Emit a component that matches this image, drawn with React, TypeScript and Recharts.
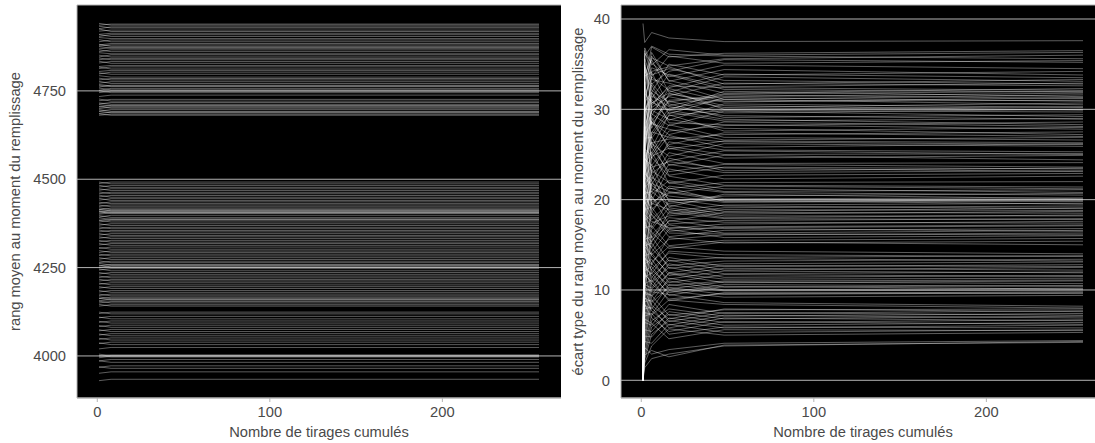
import React from 'react';
import { LineChart, Line, XAxis, YAxis, CartesianGrid } from 'recharts';

// ---------- data ----------
const xTicks = [0, 100, 200];
const leftYTicks = [4000, 4250, 4500, 4750];
const rightYTicks = [0, 10, 20, 30, 40];

// left panel: sample positions (Nombre de tirages cumulés)
const leftX = [1, 8, 256];
// each run: [value at first draw, settled value]
const leftRuns: [number, number][] = [
  [4936, 4939], [4941, 4936], [4926, 4931], [4933, 4928], [4919, 4922], [4925, 4918], [4910, 4913], [4904, 4909],
  [4909, 4904], [4901, 4898], [4889, 4894], [4895, 4889], [4880, 4884], [4877, 4880], [4882, 4876], [4869, 4872],
  [4875, 4871], [4861, 4866], [4866, 4861], [4858, 4855], [4846, 4852], [4851, 4846], [4838, 4842], [4843, 4838],
  [4829, 4833], [4834, 4828], [4819, 4822], [4813, 4818], [4817, 4812], [4805, 4808], [4798, 4803], [4801, 4797],
  [4793, 4789], [4781, 4785], [4786, 4781], [4772, 4776], [4777, 4771], [4761, 4766], [4768, 4764], [4765, 4762],
  [4752, 4757], [4758, 4753], [4745, 4749], [4750, 4745], [4734, 4738], [4722, 4726], [4727, 4721], [4713, 4717],
  [4716, 4712], [4704, 4709], [4711, 4707], [4700, 4704], [4706, 4701], [4693, 4697], [4697, 4692], [4686, 4690],
  [4692, 4688], [4681, 4684], [4685, 4681],
  [4488, 4492], [4492, 4487], [4478, 4482], [4483, 4477], [4469, 4473], [4473, 4468], [4459, 4463], [4464, 4459],
  [4450, 4454], [4455, 4449], [4441, 4445], [4446, 4440], [4431, 4436], [4435, 4431], [4423, 4427], [4427, 4422],
  [4414, 4418], [4419, 4414], [4408, 4412], [4415, 4410], [4404, 4408], [4411, 4406], [4401, 4405], [4408, 4403],
  [4393, 4398], [4397, 4392], [4384, 4388], [4391, 4386], [4379, 4384], [4384, 4379], [4370, 4374], [4374, 4369],
  [4360, 4364], [4365, 4360], [4351, 4355], [4356, 4351], [4342, 4346], [4346, 4341], [4333, 4337], [4337, 4332],
  [4323, 4327], [4327, 4322], [4314, 4318], [4318, 4313], [4304, 4308], [4307, 4302], [4293, 4297], [4298, 4293],
  [4284, 4288], [4288, 4283], [4274, 4278], [4278, 4273], [4264, 4268], [4269, 4264], [4255, 4259], [4262, 4257],
  [4251, 4255], [4257, 4252], [4243, 4247], [4246, 4241], [4232, 4236], [4236, 4231], [4222, 4226], [4226, 4221],
  [4212, 4216], [4217, 4212], [4203, 4207], [4206, 4201], [4192, 4196], [4196, 4191], [4181, 4185], [4185, 4180],
  [4171, 4175], [4175, 4170], [4162, 4166], [4167, 4162], [4156, 4160], [4163, 4158], [4150, 4154], [4155, 4150],
  [4141, 4145], [4146, 4141], [4120, 4124], [4124, 4119], [4108, 4112], [4110, 4105], [4095, 4099], [4098, 4093],
  [4083, 4087], [4086, 4081], [4071, 4075], [4074, 4069], [4059, 4063], [4062, 4057], [4047, 4051], [4050, 4045],
  [4035, 4039], [4037, 4032], [4020, 4024], [3999, 4003], [4005, 4001], [3995, 3999], [4001, 3997], [3986, 3990],
  [3986, 3982], [3968, 3972], [3969, 3965], [3951, 3955], [3930, 3934],
];

// right panel: sample positions
const rightX = [1, 2, 6, 16, 48, 256];
// each run: value at each of rightX
const rightRuns: number[][] = [
  [39.5, 37.4, 38.5, 37.9, 37.5, 37.6],
  [0, 33.2, 36.9, 35.8, 36.2, 36.5], [0, 36.8, 34.9, 36.6, 36.0, 36.3], [0, 30.1, 35.7, 34.8, 35.6, 36.0],
  [0, 35.9, 37.0, 36.1, 35.9, 35.6], [0, 28.4, 33.6, 35.9, 35.1, 35.4], [0, 34.7, 32.8, 34.2, 35.5, 35.2],
  [0, 36.2, 35.1, 33.6, 34.9, 34.5], [0, 27.5, 31.9, 35.0, 33.8, 34.2], [0, 31.8, 36.3, 33.1, 34.4, 33.8],
  [0, 35.1, 30.6, 32.4, 33.9, 33.5], [0, 24.9, 34.2, 34.7, 32.8, 33.3], [0, 33.9, 35.5, 31.9, 33.6, 33.1],
  [0, 29.7, 31.2, 33.9, 32.5, 32.9], [0, 36.5, 33.8, 34.5, 33.2, 32.8], [0, 26.3, 29.8, 31.5, 32.9, 32.6],
  [0, 32.6, 35.9, 33.2, 31.8, 32.3], [0, 22.8, 30.4, 32.6, 32.4, 32.1], [0, 34.4, 32.1, 30.8, 31.7, 32.0],
  [0, 30.9, 34.6, 33.8, 32.2, 31.9], [0, 27.1, 28.7, 31.0, 31.4, 31.8], [0, 35.6, 33.3, 32.9, 31.1, 31.6],
  [0, 25.4, 31.8, 29.9, 32.0, 31.4], [0, 31.2, 27.9, 31.7, 30.8, 31.3], [0, 33.7, 34.1, 30.4, 31.6, 31.2],
  [0, 20.6, 29.3, 32.3, 30.9, 31.0], [0, 29.2, 32.7, 29.5, 31.3, 30.9], [0, 34.9, 30.2, 31.4, 30.2, 30.7],
  [0, 24.1, 27.4, 30.1, 31.1, 30.5], [0, 31.5, 33.6, 32.1, 30.0, 30.3], [0, 27.8, 31.1, 28.8, 30.6, 30.2],
  [0, 33.0, 28.3, 30.9, 29.6, 30.0], [0, 21.9, 30.7, 31.8, 30.4, 29.9], [0, 30.4, 26.8, 29.3, 29.9, 29.7],
  [0, 26.7, 32.9, 30.6, 29.1, 29.4], [0, 32.3, 29.5, 28.2, 29.8, 29.2], [0, 18.8, 27.1, 29.7, 28.7, 29.0],
  [0, 29.9, 31.5, 30.3, 29.3, 28.9], [0, 25.6, 24.9, 27.6, 28.2, 28.6], [0, 31.7, 30.8, 29.9, 28.9, 28.3],
  [0, 23.3, 28.6, 27.2, 28.6, 28.1], [0, 28.9, 25.7, 29.4, 27.6, 28.0], [0, 30.8, 31.9, 28.5, 28.3, 27.8],
  [0, 20.2, 26.3, 26.7, 27.2, 27.5], [0, 27.3, 29.9, 28.9, 27.9, 27.2], [0, 24.5, 23.8, 26.1, 27.4, 27.0],
  [0, 30.2, 28.4, 27.8, 26.6, 26.9], [0, 17.9, 25.2, 28.3, 26.9, 26.6], [0, 26.4, 29.1, 25.6, 26.5, 26.3],
  [0, 28.1, 24.6, 27.1, 25.8, 26.2], [0, 22.7, 27.5, 26.9, 26.4, 26.1], [0, 29.5, 26.2, 24.8, 26.2, 25.9],
  [0, 19.6, 23.1, 26.4, 25.5, 25.3], [0, 25.9, 28.7, 25.9, 25.0, 25.1], [0, 27.6, 22.9, 24.3, 25.4, 25.0],
  [0, 16.4, 24.8, 25.7, 24.6, 24.9], [0, 26.8, 26.9, 23.8, 24.9, 24.4], [0, 21.3, 22.2, 25.2, 24.0, 24.1],
  [0, 28.2, 25.8, 23.1, 23.9, 23.6], [0, 18.5, 21.7, 24.6, 23.2, 23.5], [0, 24.7, 26.4, 22.7, 23.6, 23.4],
  [0, 26.1, 20.8, 23.9, 23.0, 23.2], [0, 15.2, 23.6, 24.2, 23.5, 23.1], [0, 23.9, 25.3, 21.8, 22.7, 22.9],
  [0, 25.3, 19.9, 23.4, 22.3, 22.6], [0, 14.6, 22.5, 21.2, 21.9, 22.0], [0, 23.1, 24.7, 22.6, 21.6, 21.4],
  [0, 20.4, 18.9, 20.7, 21.5, 21.2], [0, 24.6, 23.2, 21.9, 20.9, 21.1], [0, 12.9, 20.6, 22.1, 21.2, 20.8],
  [0, 22.2, 23.9, 19.8, 20.4, 20.7], [0, 24.0, 19.4, 21.5, 20.8, 20.5], [0, 17.3, 21.8, 20.9, 20.1, 20.2],
  [0, 21.7, 22.8, 19.2, 20.6, 20.1], [0, 13.8, 18.6, 21.3, 19.8, 20.0], [0, 23.4, 21.2, 20.4, 19.7, 19.9],
  [0, 19.2, 17.8, 19.6, 20.0, 19.8], [0, 22.9, 22.1, 18.7, 19.4, 19.6], [0, 11.6, 19.7, 20.8, 19.9, 19.5],
  [0, 21.0, 20.3, 18.4, 19.1, 19.3], [0, 18.1, 16.9, 19.9, 18.7, 19.1], [0, 22.4, 21.6, 20.1, 19.3, 19.0],
  [0, 12.3, 17.4, 18.2, 18.9, 18.8], [0, 20.7, 20.9, 19.4, 18.4, 18.7], [0, 17.6, 15.8, 17.6, 18.6, 18.5],
  [0, 21.8, 19.6, 18.9, 18.0, 18.3], [0, 10.8, 16.7, 19.1, 18.2, 18.2], [0, 19.5, 20.4, 17.3, 17.7, 17.9],
  [0, 16.2, 15.3, 18.6, 17.9, 17.8], [0, 20.9, 18.7, 16.8, 17.3, 17.6], [0, 11.1, 16.1, 18.0, 17.5, 17.4],
  [0, 18.9, 19.2, 16.5, 17.0, 17.2], [0, 15.4, 14.7, 17.7, 16.9, 17.1], [0, 19.8, 18.3, 15.9, 16.6, 16.8],
  [0, 9.7, 15.5, 17.2, 16.3, 16.6], [0, 18.3, 17.6, 16.9, 16.8, 16.5], [0, 14.8, 13.9, 15.6, 16.1, 16.3],
  [0, 17.7, 18.4, 16.3, 16.2, 16.1], [0, 10.2, 14.2, 16.7, 15.8, 16.0], [0, 16.9, 17.1, 14.9, 15.5, 15.7],
  [0, 13.5, 12.8, 15.8, 15.2, 15.4], [0, 17.2, 16.4, 14.6, 15.3, 15.0], [0, 8.9, 13.1, 14.8, 14.3, 14.0],
  [0, 15.6, 15.9, 13.2, 13.6, 13.8], [0, 12.4, 11.8, 14.3, 13.9, 13.7], [0, 16.1, 14.6, 12.7, 13.2, 13.4],
  [0, 7.8, 12.3, 14.1, 13.5, 13.2], [0, 14.9, 15.2, 12.4, 12.9, 13.1], [0, 11.7, 10.9, 13.6, 12.6, 12.8],
  [0, 15.3, 13.8, 11.9, 12.7, 12.6], [0, 6.9, 11.4, 13.3, 12.2, 12.5], [0, 13.8, 14.1, 11.6, 12.4, 12.2],
  [0, 10.6, 10.2, 12.9, 11.8, 12.0], [0, 14.4, 12.9, 11.2, 12.1, 11.9], [0, 6.1, 10.8, 12.5, 11.4, 11.6],
  [0, 12.9, 13.4, 10.8, 11.7, 11.5], [0, 9.8, 9.4, 11.9, 11.2, 11.3], [0, 13.6, 12.2, 10.5, 11.0, 11.1],
  [0, 5.4, 10.1, 11.8, 10.8, 11.0], [0, 12.1, 12.6, 10.1, 10.9, 10.7], [0, 9.1, 8.7, 11.3, 10.3, 10.5],
  [0, 12.8, 11.5, 9.7, 10.6, 10.4], [0, 4.8, 9.3, 11.0, 10.0, 10.2], [0, 11.4, 11.9, 9.4, 10.4, 10.1],
  [0, 8.3, 7.9, 10.6, 9.9, 10.0], [0, 11.9, 10.7, 9.0, 9.6, 9.8], [0, 4.2, 8.6, 10.3, 9.5, 9.7],
  [0, 10.7, 11.1, 8.8, 9.7, 9.6], [0, 7.5, 7.3, 9.9, 9.2, 9.4], [0, 10.3, 9.8, 9.5, 8.6, 8.2],
  [0, 3.9, 7.2, 8.9, 8.4, 8.0], [0, 9.6, 9.4, 7.2, 7.8, 7.9], [0, 6.4, 6.1, 8.4, 7.4, 7.7],
  [0, 9.9, 8.3, 6.8, 7.9, 7.6], [0, 3.2, 6.6, 7.9, 7.1, 7.4], [0, 8.7, 8.9, 6.5, 7.5, 7.2],
  [0, 5.6, 5.4, 7.6, 6.8, 7.1], [0, 9.2, 7.7, 6.1, 7.2, 6.9], [0, 2.7, 5.9, 7.3, 6.4, 6.7],
  [0, 7.9, 8.1, 5.8, 6.9, 6.6], [0, 4.9, 4.8, 6.9, 6.1, 6.4], [0, 8.4, 6.9, 5.4, 6.5, 6.2],
  [0, 2.3, 5.1, 6.6, 5.8, 6.1], [0, 7.1, 7.4, 5.1, 5.9, 5.8], [0, 4.3, 4.1, 6.2, 5.3, 5.6],
  [0, 6.8, 6.3, 4.6, 5.6, 5.5], [0, 1.9, 3.8, 5.7, 5.0, 5.3], [0, 3.6, 2.9, 3.4, 4.1, 4.4],
  [0, 1.4, 2.4, 2.9, 3.8, 4.3], [0, 2.8, 3.3, 2.6, 3.9, 4.2],
];

const xLabel = 'Nombre de tirages cumulés';
const leftYLabel = 'rang moyen au moment du remplissage';
const rightYLabel = 'écart type du rang moyen au moment du remplissage';

// ---------- table building ----------
const leftData = leftX.map((x, j) => {
  const row: Record<string, number> = { x };
  leftRuns.forEach((r, i) => {
    row['s' + i] = j === 0 ? r[0] : r[1];
  });
  return row;
});

const rightData = rightX.map((x, j) => {
  const row: Record<string, number> = { x };
  rightRuns.forEach((r, i) => {
    row['r' + i] = r[j];
  });
  return row;
});

// ---------- styles ----------
const FONT = '"Liberation Sans", Arial, sans-serif';
const FS = 14.7;
const TEXT = '#4a4a4a';
const GRID = '#b4b4b4';
const LINE = '#ffffff';

const Title = (props: { px: number; py: number; rot?: number; text: string }) => {
  const { px, py, rot, text } = props;
  return (
    <text
      x={px}
      y={py}
      transform={rot ? `rotate(${rot} ${px} ${py})` : undefined}
      textAnchor="middle"
      dominantBaseline={rot ? 'central' : 'alphabetic'}
      fill={TEXT}
      fontSize={FS}
      fontFamily={FONT}
    >
      {text}
    </text>
  );
};

const tickStyle = { fill: TEXT, fontSize: FS, fontFamily: FONT };

export default function App() {
  return (
    <div
      style={{
        position: 'absolute',
        left: 0,
        top: 0,
        width: 1095,
        height: 443,
        overflow: 'hidden',
        background: '#fff',
      }}
    >
      <div style={{ position: 'absolute', left: 0, top: 0 }}>
        <LineChart width={570} height={443} data={leftData} margin={{ top: 5, right: 9, bottom: 0, left: 0 }}>
          <CartesianGrid vertical={false} stroke={GRID} fill="#000" fillOpacity={1} />
          <XAxis
            dataKey="x"
            type="number"
            domain={[-11.75, 268.75]}
            ticks={xTicks}
            allowDataOverflow
            height={45}
            tickSize={4}
            tickMargin={5}
            axisLine={{ stroke: GRID }}
            tickLine={{ stroke: GRID }}
            tick={tickStyle}
            label={<Title px={319} py={437} text={xLabel} />}
          />
          <YAxis
            type="number"
            domain={[3881, 4993]}
            ticks={leftYTicks}
            allowDataOverflow
            width={77}
            tickSize={0}
            tickMargin={11}
            tickLine={false}
            axisLine={{ stroke: GRID }}
            tick={tickStyle}
            label={<Title px={15} py={201.5} rot={-90} text={leftYLabel} />}
          />
          {leftRuns.map((_, i) => (
            <Line
              key={'s' + i}
              dataKey={'s' + i}
              type="linear"
              stroke={LINE}
              strokeOpacity={0.36}
              strokeWidth={1}
              dot={false}
              activeDot={false}
              isAnimationActive={false}
            />
          ))}
        </LineChart>
      </div>
      <div style={{ position: 'absolute', left: 545, top: 0 }}>
        <LineChart width={570} height={443} data={rightData} margin={{ top: 5, right: 10, bottom: 0, left: 0 }}>
          <CartesianGrid vertical={false} stroke={GRID} fill="#000" fillOpacity={1} />
          <XAxis
            dataKey="x"
            type="number"
            domain={[-11.75, 268.75]}
            ticks={xTicks}
            allowDataOverflow
            height={45}
            tickSize={4}
            tickMargin={5}
            axisLine={{ stroke: GRID }}
            tickLine={{ stroke: GRID }}
            tick={tickStyle}
            label={<Title px={318} py={437} text={xLabel} />}
          />
          <YAxis
            type="number"
            domain={[-1.96, 41.55]}
            ticks={rightYTicks}
            allowDataOverflow
            width={76}
            tickSize={0}
            tickMargin={11}
            tickLine={false}
            axisLine={{ stroke: GRID }}
            tick={tickStyle}
            label={<Title px={32.5} py={201.5} rot={-90} text={rightYLabel} />}
          />
          {rightRuns.map((_, i) => (
            <Line
              key={'r' + i}
              dataKey={'r' + i}
              type="linear"
              stroke={LINE}
              strokeOpacity={0.36}
              strokeWidth={1}
              dot={false}
              activeDot={false}
              isAnimationActive={false}
            />
          ))}
        </LineChart>
      </div>
    </div>
  );
}
